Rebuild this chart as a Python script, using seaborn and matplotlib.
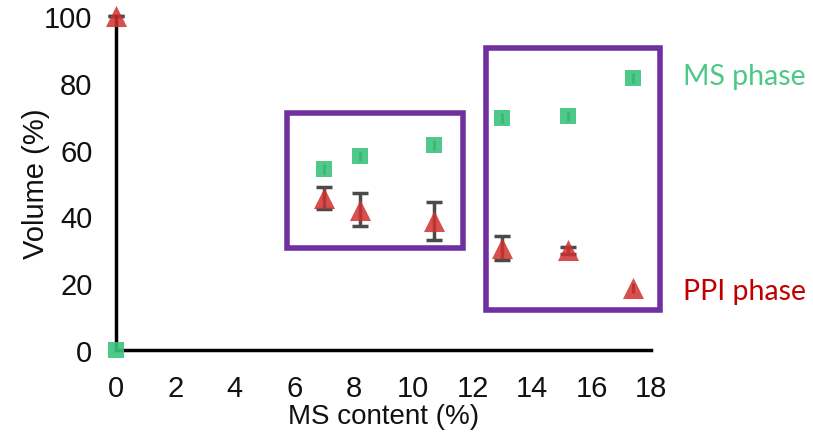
import matplotlib
matplotlib.use("Agg")
import matplotlib.pyplot as plt
import seaborn as sns
import pandas as pd
from matplotlib.patches import Rectangle

ms_content = [0.0, 7.0, 8.2, 10.7, 13.0, 15.2, 17.4]
ms_phase = [0.0, 54.2, 58.1, 61.4, 69.5, 70.1, 81.4]
ms_err = [0.0, 1.5, 1.5, 1.5, 1.5, 1.5, 1.5]
ppi_phase = [100.0, 45.5, 42.0, 38.7, 30.5, 29.8, 18.5]
ppi_err = [0.0, 3.3, 5.0, 5.7, 3.5, 1.0, 1.5]
x_ticks = [0, 2, 4, 6, 8, 10, 12, 14, 16, 18]
y_ticks = [0, 20, 40, 60, 80, 100]

sns.set_theme(style="white")
plt.rcParams['font.family'] = ['Liberation Sans', 'DejaVu Sans']

fig = plt.figure(figsize=(8.13, 4.35), dpi=100)
ax = fig.add_axes([0.1427, 0.193, 0.658, 0.768])

green = "#3CC47C"
red = "#D03030"
purple = "#7030A0"

df = pd.DataFrame({"x": ms_content, "ms": ms_phase, "ppi": ppi_phase})

ax.errorbar(ms_content, ms_phase, yerr=ms_err, fmt="none", ecolor="#4a4a4a",
            elinewidth=2.2, capsize=0, zorder=2, clip_on=False)
ax.errorbar(ms_content[:6], ppi_phase[:6], yerr=ppi_err[:6], fmt="none",
            ecolor="#4a4a4a", elinewidth=2.5, capsize=6, capthick=2.5,
            zorder=2, clip_on=False)
ax.errorbar(ms_content[6:], ppi_phase[6:], yerr=ppi_err[6:], fmt="none",
            ecolor="#4a4a4a", elinewidth=2.2, capsize=0, zorder=2,
            clip_on=False)

sns.scatterplot(data=df, x="x", y="ms", marker="s", s=145, color=green,
                alpha=0.9, linewidth=0, ax=ax, zorder=3, clip_on=False)
sns.scatterplot(data=df, x="x", y="ppi", marker="^", s=230, color=red,
                alpha=0.85, linewidth=0, ax=ax, zorder=3, clip_on=False)

ax.add_patch(Rectangle((5.75, 30.5), 5.93, 40.5, fill=False, edgecolor=purple,
                       linewidth=4, zorder=1, clip_on=False))
ax.add_patch(Rectangle((12.45, 12.0), 5.85, 78.4, fill=False, edgecolor=purple,
                       linewidth=4, zorder=1, clip_on=False))

ax.set_xlim(0, 18)
ax.set_ylim(0, 100)
ax.set_xticks(x_ticks)
ax.set_yticks(y_ticks)
ax.set_xlabel("MS content (%)", fontsize=20, color="#111111", labelpad=1)
ax.set_ylabel("Volume (%)", fontsize=21, color="#111111", labelpad=-4)
ax.tick_params(axis="both", direction="in", length=7, width=2.5, labelsize=21,
               colors="black", labelcolor="#111111")
ax.tick_params(axis="x", pad=17)
ax.tick_params(axis="y", pad=17)
for s in ["top", "right"]:
    ax.spines[s].set_visible(False)
for s in ["left", "bottom"]:
    ax.spines[s].set_linewidth(2.5)
    ax.spines[s].set_color("black")

fig.text(683 / 813, 1 - 77 / 435, "MS phase", color="#4DC887", fontsize=20.5,
         va="center", ha="left", family=["Lato", "DejaVu Sans"])
fig.text(683 / 813, 1 - 292 / 435, "PPI phase", color="#C00000", fontsize=20.5,
         va="center", ha="left", family=["Lato", "DejaVu Sans"])

fig.savefig("out.png", dpi=100)
